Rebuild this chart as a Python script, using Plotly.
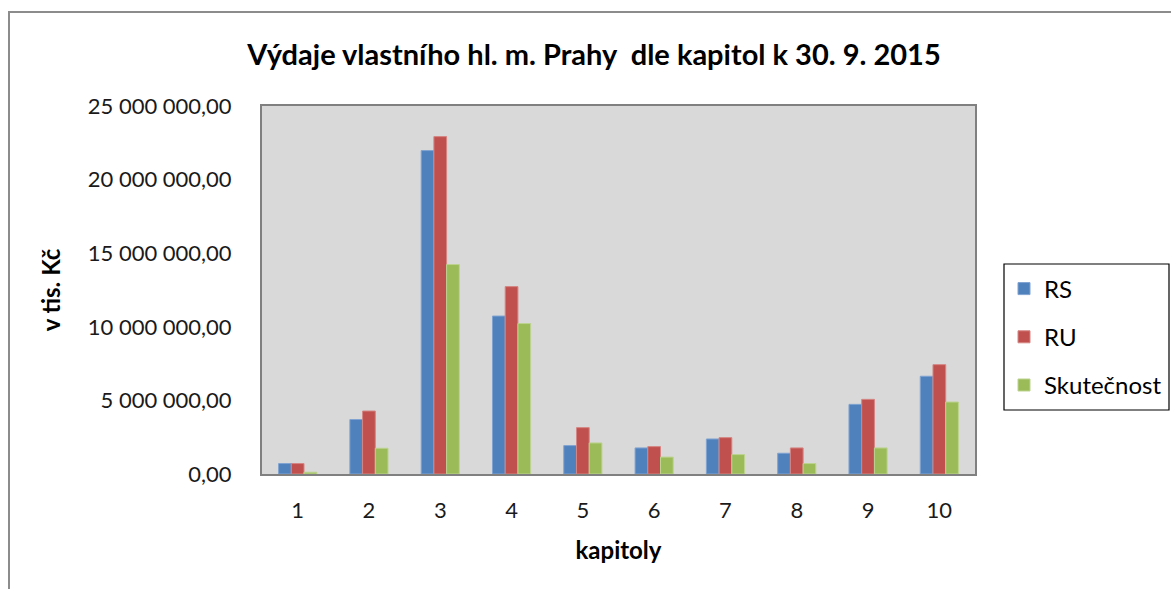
import plotly.graph_objects as go

kapitoly = ["1", "2", "3", "4", "5", "6", "7", "8", "9", "10"]
rs = [710000, 3700000, 21970000, 10730000, 1930000, 1770000, 2380000, 1410000, 4730000, 6640000]
ru = [710000, 4280000, 22920000, 12730000, 3150000, 1860000, 2470000, 1770000, 5070000, 7430000]
skutecnost = [120000, 1750000, 14230000, 10220000, 2110000, 1150000, 1320000, 710000, 1770000, 4890000]
y_ticks = [0, 5000000, 10000000, 15000000, 20000000, 25000000]

FONT = "Lato"
W, H = 1171, 589
series = [
    ("RS", rs, "#4F81BD", "#7FA3D1"),
    ("RU", ru, "#C0504D", "#D58583"),
    ("Skutečnost", skutecnost, "#9BBB59", "#BCD38F"),
]

fig = go.Figure()
for name, vals, col, edge in series:
    fig.add_trace(go.Bar(
        x=kapitoly, y=vals, name=name, legendgroup=name,
        marker=dict(color=col, line=dict(color=edge, width=1)),
    ))

fig.update_layout(
    width=W, height=H,
    margin=dict(l=262, r=196, t=106, b=115),
    paper_bgcolor="white",
    plot_bgcolor="#D9D9D9",
    separators=", ",
    font=dict(family=FONT, size=22, color="#1a1a1a"),
    barmode="group",
    bargap=0.465,
    bargroupgap=0,
    title=dict(
        text="<b>Výdaje vlastního hl. m. Prahy  dle kapitol k 30. 9. 2015</b>",
        x=594 / W, xref="container", xanchor="center",
        y=1 - 55 / H, yref="container", yanchor="middle",
        font=dict(family=FONT, size=29, color="black"),
    ),
    xaxis=dict(
        showgrid=False, showline=True, linecolor="#808080", linewidth=2,
        mirror=True, ticks="", ticklabelstandoff=16,
        title=dict(text="<b>kapitoly</b>", standoff=20,
                   font=dict(family=FONT, size=24, color="black")),
    ),
    yaxis=dict(
        range=[0, 25000000], tickvals=y_ticks, tickformat=",.2f",
        showgrid=False, showline=True, linecolor="#808080", linewidth=2,
        mirror=True, ticks="", ticklabelstandoff=24, zeroline=False,
        title=dict(text="<b>v tis. Kč</b>", standoff=20,
                   font=dict(family=FONT, size=24, color="black")),
    ),
    legend=dict(
        x=1004 / W, y=1 - 337 / H, xref="container", yref="container",
        xanchor="left", yanchor="middle",
        bgcolor="rgba(0,0,0,0)", borderwidth=0,
        tracegroupgap=14, itemwidth=30,
        font=dict(family=FONT, size=24, color="black"),
    ),
    shapes=[
        # legend frame
        dict(type="rect", xref="paper", yref="paper",
             x0=(1004 - 262) / 713, x1=(1169 - 262) / 713,
             y0=(474 - 410) / 368, y1=(474 - 264) / 368,
             line=dict(color="black", width=1.2), fillcolor="rgba(0,0,0,0)"),
        # outer chart frame
        dict(type="rect", xref="paper", yref="paper",
             x0=(9 - 262) / 713, x1=(1180 - 262) / 713,
             y0=(474 - 600) / 368, y1=(474 - 12) / 368,
             line=dict(color="#8c8c8c", width=2), fillcolor="rgba(0,0,0,0)"),
    ],
)

fig.write_html("out.html")
